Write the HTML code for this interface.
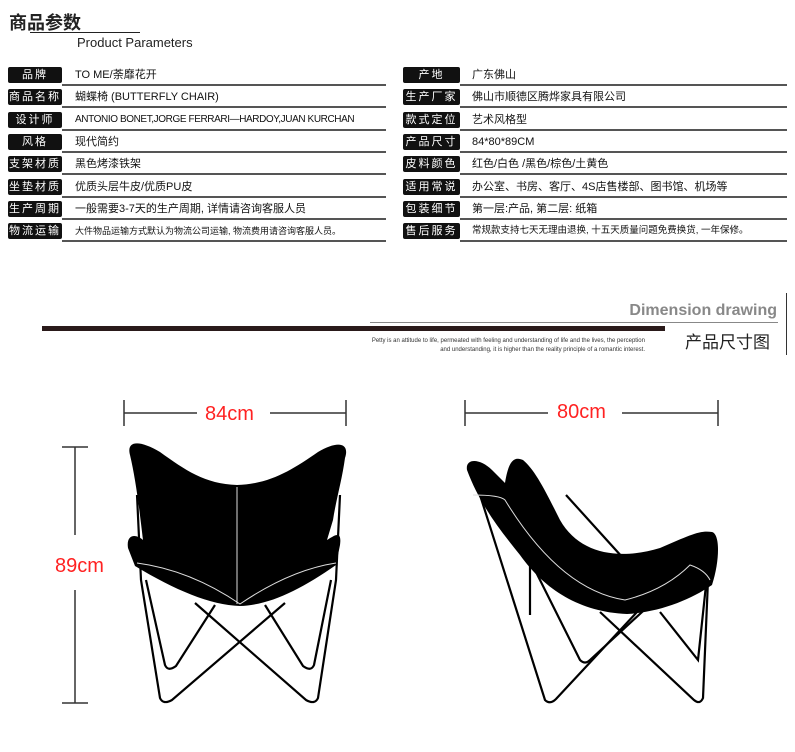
<!DOCTYPE html><html><head><meta charset="utf-8"><style>
body{margin:0;width:795px;height:752px;background:#fff;position:relative;overflow:hidden;font-family:"Liberation Sans","Noto Sans CJK SC",sans-serif}
.a{position:absolute;white-space:nowrap}
.k{position:absolute;background:#111;color:#fff;font-size:11px;height:16px;line-height:16px;text-align:center;border-radius:2px;letter-spacing:2px}
.t{position:absolute;font-size:11px;line-height:16px;color:#111;white-space:nowrap}
.l{position:absolute;height:2px;background:#555}
</style></head><body>
<div class="a" style="left:9px;top:9px;font-size:18px;font-weight:bold;color:#222">商品参数</div>
<div class="a" style="left:30px;top:32px;width:110px;height:1px;background:#222"></div>
<div class="a" style="left:77px;top:35px;font-size:13px;color:#222">Product Parameters</div>
<div id="tbl"></div>
<div class="a" style="left:370px;top:322px;width:408px;height:1px;background:#888"></div>
<div class="a" style="left:42px;top:326px;width:623px;height:5px;background:#2a1a1a"></div>
<div class="a" style="right:18px;top:302px;font-size:16px;font-weight:bold;color:#888">Dimension drawing</div>
<div class="a" style="left:685px;top:328px;font-size:17px;color:#222">产品尺寸图</div>
<div class="a" style="left:786px;top:293px;width:1px;height:62px;background:#333"></div>
<div class="a" style="right:150px;top:337px;font-size:6px;color:#333;text-align:right;line-height:9px">Petty is an attitude to life, permeated with feeling and understanding of life and the lives, the perception<br>and understanding, it is higher than the reality principle of a romantic interest.</div>
<svg class="a" style="left:0;top:0" width="795" height="752">
<g stroke="#333" stroke-width="1.5" fill="none">
<path d="M124,400V426M124,413H197M270,413H346M346,400V426"/>
<path d="M465,400V426M465,413H548M622,413H718M718,400V426"/>
<path d="M62,447H88M75,447V535M75,590V703M62,703H88"/>
</g>
<g fill="#f22" font-size="20" font-family="Liberation Sans,sans-serif">
<text x="205" y="420">84cm</text><text x="557" y="418">80cm</text><text x="55" y="572">89cm</text></g>
<g stroke="#000" stroke-width="2.2" fill="none">
<path d="M137,495L141,580L160,698Q163,705 172,700L285,603"/>
<path d="M146,580L165,665Q168,672 176,666L215,605"/>
<path d="M340,495L336,580L318,698Q315,705 306,700L195,603"/>
<path d="M331,580L314,665Q311,672 303,666L265,605"/>
<path d="M480,495L545,700Q550,705 556,699L637,612"/>
<path d="M530,560L580,660Q585,665 590,660L655,600"/>
<path d="M530,560L530,615M566,495L652,590"/>
<path d="M708,580L703,698Q700,705 694,700L600,612"/>
<path d="M706,585L698,660L660,612"/>
</g>
<path d="M130,455C126,440 140,440 160,452C185,470 205,484 237,485C270,484 292,470 318,452C338,440 350,443 345,458C342,480 336,500 333,520L327,540C335,535 342,530 340,545L336,565C300,590 270,605 240,606C210,605 175,590 135,566L128,548C126,535 135,533 143,540C140,515 136,480 130,455Z" fill="#000"/>
<path d="M237,487V604M137,563Q190,570 240,604Q290,570 336,563" stroke="#ddd" stroke-width="1" fill="none"/>
<path d="M467,470C465,458 480,458 492,470L505,483C508,465 512,455 523,460C535,470 545,490 560,520C580,555 620,560 660,548C690,535 700,530 712,532C720,534 720,560 712,585C690,600 660,612 627,614C580,612 545,590 520,555C500,530 480,505 467,470Z" fill="#000"/>
<path d="M473,495Q500,495 505,500Q560,590 625,600Q665,590 690,565Q705,570 710,580" stroke="#ddd" stroke-width="1" fill="none"/>
</svg>
<script>
var L=[["品牌","TO ME/荼靡花开"],["商品名称","蝴蝶椅 (BUTTERFLY CHAIR)"],["设计师","ANTONIO BONET,JORGE FERRARI—HARDOY,JUAN KURCHAN"],["风格","现代简约"],["支架材质","黑色烤漆铁架"],["坐垫材质","优质头层牛皮/优质PU皮"],["生产周期","一般需要3-7天的生产周期, 详情请咨询客服人员"],["物流运输","大件物品运输方式默认为物流公司运输, 物流费用请咨询客服人员。"]];
var R=[["产地","广东佛山"],["生产厂家","佛山市顺德区腾烨家具有限公司"],["款式定位","艺术风格型"],["产品尺寸","84*80*89CM"],["皮料颜色","红色/白色 /黑色/棕色/土黄色"],["适用常说","办公室、书房、客厅、4S店售楼部、图书馆、机场等"],["包装细节","第一层:产品, 第二层: 纸箱"],["售后服务","常规款支持七天无理由退换, 十五天质量问题免费换货, 一年保修。"]];
var h="";
for(var i=0;i<8;i++){var y=67+i*22.3;
h+='<div class="k" style="left:8px;top:'+y+'px;width:54px">'+L[i][0]+'</div><div class="t" style="left:75px;top:'+y+'px;'+(i==7?'font-size:9px':'')+(i==2?'font-size:10px;letter-spacing:-0.4px':'')+'">'+L[i][1]+'</div><div class="l" style="left:62px;top:'+(y+17)+'px;width:324px"></div>';
h+='<div class="k" style="left:403px;top:'+y+'px;width:57px">'+R[i][0]+'</div><div class="t" style="left:472px;top:'+y+'px;'+(i==7?'font-size:9.5px':'')+'">'+R[i][1]+'</div><div class="l" style="left:460px;top:'+(y+17)+'px;width:327px"></div>';}
document.getElementById("tbl").innerHTML=h;
</script>
</body></html>
